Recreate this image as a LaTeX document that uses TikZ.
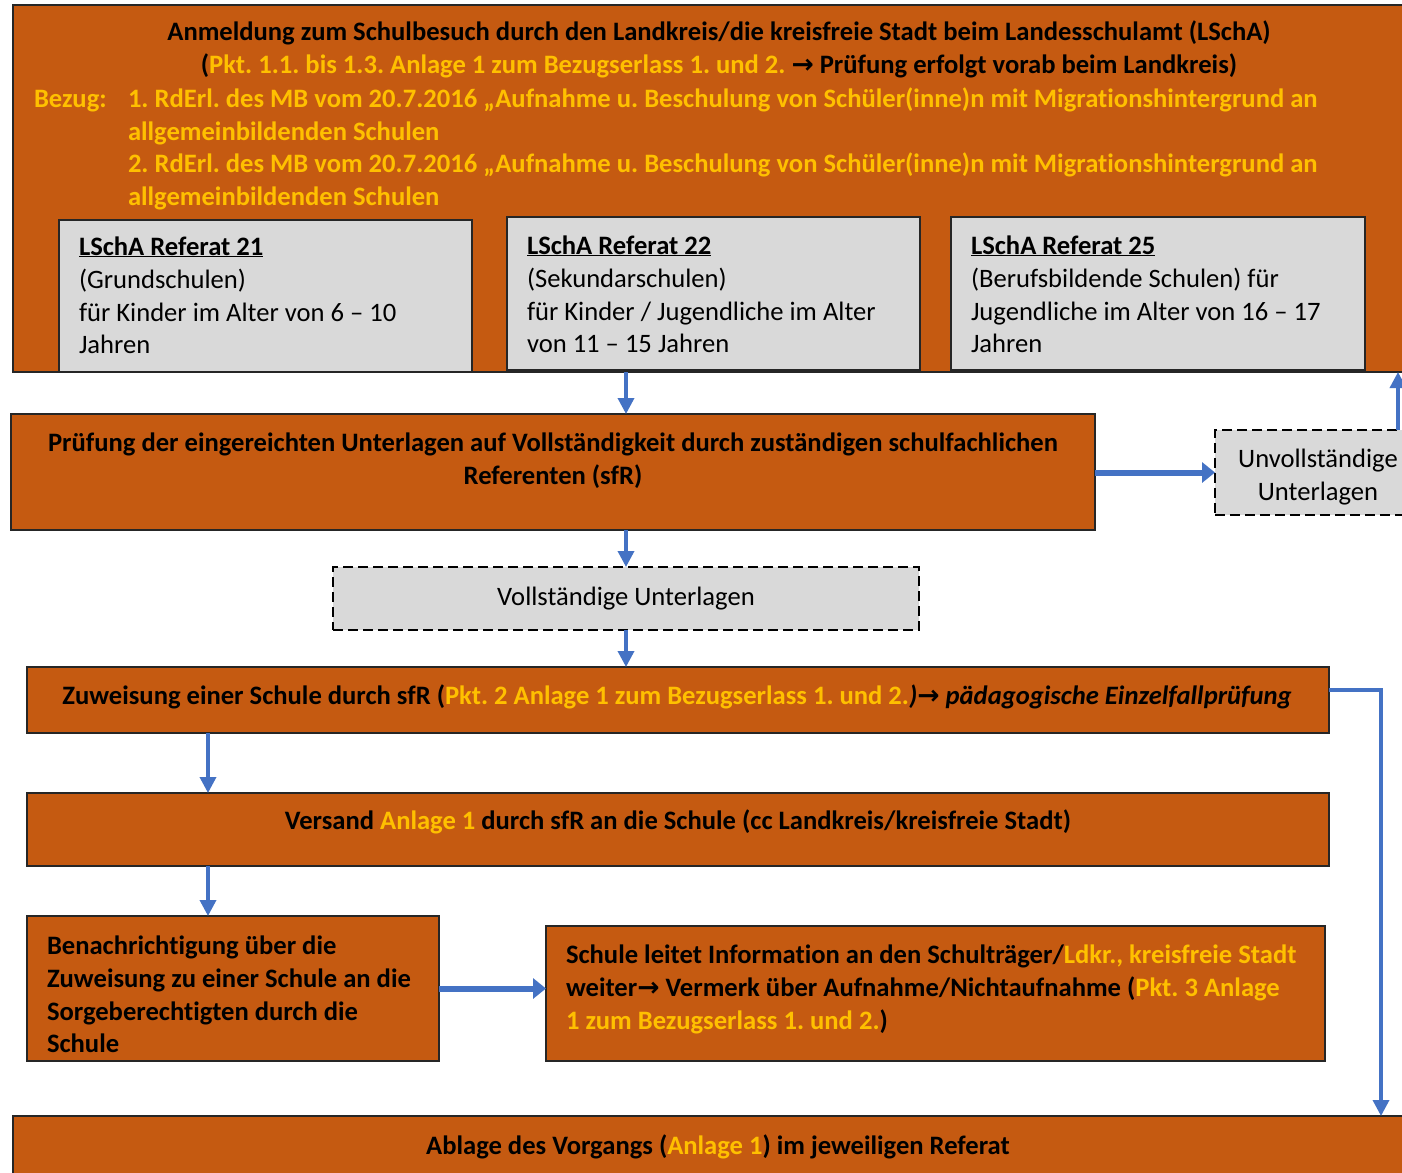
\documentclass[tikz,border=0pt]{standalone}
\usepackage{fontspec}
\setmainfont{Carlito}[Ligatures=NoCommon]
\newfontfamily\arrowfont{DejaVu Sans}
\usetikzlibrary{arrows.meta,calc}
\definecolor{org}{HTML}{C55A11}
\definecolor{yel}{HTML}{FFC000}
\definecolor{gry}{HTML}{D9D9D9}
\definecolor{blu}{HTML}{4472C4}
\newcommand{\ar}{{\arrowfont\bfseries →}}
\frenchspacing
\begin{document}
\begin{tikzpicture}[x=1pt,y=-1pt,
 every node/.style={inner sep=0pt, outer sep=0pt, font=\fontsize{26.6}{33}\selectfont\frenchspacing},
 bt/.style={font=\fontsize{26.6}{33}\selectfont\bfseries\frenchspacing},
 obox/.style={draw=black!85, line width=1.2pt, fill=org, anchor=north west},
 gbox/.style={draw=black!85, line width=1.2pt, fill=gry, anchor=north west},
 dbox/.style={draw=black, line width=2.2pt, dash pattern=on 10pt off 5pt, fill=gry, anchor=north west},
 arr/.style={draw=blu, line width=3.5pt, -{Triangle[length=16pt,width=16pt]}},
 tarr/.style={draw=blu, line width=6pt, -{Triangle[length=13pt,width=20pt]}},
]
\useasboundingbox (0,0) rectangle (1402,1172);
\fill[white] (0,0) rectangle (1402,1172);
\begin{scope}
\clip (0,0) rectangle (1402,1172);
% boxes
\node[obox, minimum width=1412pt, minimum height=367pt] (top) at (13,5) {};
\node[gbox, minimum width=413pt, minimum height=152pt] (r21) at (59,220) {};
\node[gbox, minimum width=413pt, minimum height=153pt] (r22) at (507,217) {};
\node[gbox, minimum width=414pt, minimum height=153pt] (r25) at (951,217) {};
\node[obox, minimum width=1084pt, minimum height=116pt] (pr) at (11,414) {};
\node[dbox, minimum width=206pt, minimum height=85pt] (unv) at (1215,430) {};
\node[dbox, minimum width=586pt, minimum height=63pt] (voll) at (333,567) {};
\node[obox, minimum width=1302pt, minimum height=66pt] (zuw) at (27,667) {};
\node[obox, minimum width=1302pt, minimum height=73pt] (vers) at (27,793) {};
\node[obox, minimum width=412pt, minimum height=145pt] (ben) at (27,916) {};
\node[obox, minimum width=779pt, minimum height=135pt] (sch) at (546,926) {};
\node[obox, minimum width=1412pt, minimum height=70pt] (abl) at (13,1116) {};
% top texts
\node[bt, anchor=base] (t1) at (719,41) {Anmeldung zum Schulbesuch durch den Landkreis/die kreisfreie Stadt beim Landesschulamt (LSchA)};
\node[bt, anchor=base] (t2) at (719,74) {(\textcolor{yel}{Pkt. 1.1. bis 1.3. Anlage 1 zum Bezugserlass 1. und 2.} \ar{} Prüfung erfolgt vorab beim Landkreis)};
\node[bt, anchor=base west, text=yel] (bz) at (34,107) {Bezug:};
\node[bt, anchor=base west, text=yel] (b1) at (128,107) {1. RdErl. des MB vom 20.7.2016 „Aufnahme u. Beschulung von Schüler(inne)n mit Migrationshintergrund an};
\node[bt, anchor=base west, text=yel] (b2) at (128,140) {allgemeinbildenden Schulen};
\node[bt, anchor=base west, text=yel] (b3) at (128,172) {2. RdErl. des MB vom 20.7.2016 „Aufnahme u. Beschulung von Schüler(inne)n mit Migrationshintergrund an};
\node[bt, anchor=base west, text=yel] (b4) at (128,205) {allgemeinbildenden Schulen};
% referat texts
\node[bt, anchor=base west] (a1) at (79,255) {\underline{LSchA Referat 21}};
\node[anchor=base west] (a2) at (79,288) {(Grundschulen)};
\node[anchor=base west] (a3) at (79,321) {für Kinder im Alter von 6 – 10};
\node[anchor=base west] (a4) at (79,353) {Jahren};
\node[bt, anchor=base west] (c1) at (527,254) {\underline{LSchA Referat 22}};
\node[anchor=base west] (c2) at (527,287) {(Sekundarschulen)};
\node[anchor=base west] (c3) at (527,320) {für Kinder / Jugendliche im Alter};
\node[anchor=base west] (c4) at (527,352) {von 11 – 15 Jahren};
\node[bt, anchor=base west] (d1) at (971,254) {\underline{LSchA Referat 25}};
\node[anchor=base west] (d2) at (971,287) {(Berufsbildende Schulen) für};
\node[anchor=base west] (d3) at (971,320) {Jugendliche im Alter von 16 – 17};
\node[anchor=base west] (d4) at (971,352) {Jahren};
% other texts
\node[bt, anchor=base] (p1) at (553,451) {Prüfung der eingereichten Unterlagen auf Vollständigkeit durch zuständigen schulfachlichen};
\node[bt, anchor=base] (p2) at (553,484) {Referenten (sfR)};
\node[anchor=base] (u1) at (1318,467) {Unvollständige};
\node[anchor=base] (u2) at (1318,500) {Unterlagen};
\node[anchor=base] (v1) at (626,605) {Vollständige Unterlagen};
\node[bt, anchor=base] (z1) at (677,704) {Zuweisung einer Schule durch sfR (\textcolor{yel}{Pkt. 2 Anlage 1 zum Bezugserlass 1. und 2.}\textit{)}\ar\textit{ pädagogische Einzelfallprüfung}};
\node[bt, anchor=base] (w1) at (678,829) {Versand \textcolor{yel}{Anlage 1} durch sfR an die Schule (cc Landkreis/kreisfreie Stadt)};
\node[bt, anchor=base west] (e1) at (47,954) {Benachrichtigung über die};
\node[bt, anchor=base west] (e2) at (47,987) {Zuweisung zu einer Schule an die};
\node[bt, anchor=base west] (e3) at (47,1020) {Sorgeberechtigten durch die};
\node[bt, anchor=base west] (e4) at (47,1052) {Schule};
\node[bt, anchor=base west] (s1) at (566,963) {Schule leitet Information an den Schulträger/\textcolor{yel}{Ldkr., kreisfreie Stadt}};
\node[bt, anchor=base west] (s2) at (566,996) {weiter\ar{} Vermerk über Aufnahme/Nichtaufnahme (\textcolor{yel}{Pkt. 3 Anlage}};
\node[bt, anchor=base west] (s3) at (566,1029) {\textcolor{yel}{1 zum Bezugserlass 1. und 2.})};
\node[bt, anchor=base] (l1) at (718,1154) {Ablage des Vorgangs (\textcolor{yel}{Anlage 1}) im jeweiligen Referat};
% connectors
\coordinate (upx) at (1398,0);
\coordinate (lx) at (208,0);
\coordinate (rx) at (1381,690);
\draw[arr] (top.south -| voll.north) -- (pr.north -| voll.north);
\draw[tarr] (pr.east |- unv.west) -- (unv.west);
\draw[arr] (unv.north -| upx) -- (top.south -| upx);
\draw[arr] (pr.south -| voll.north) -- (voll.north);
\draw[arr] (voll.south) -- (zuw.north -| voll.south);
\draw[arr] (zuw.east |- rx) -- (rx) -- (abl.north -| rx);
\draw[arr] (zuw.south -| lx) -- (vers.north -| lx);
\draw[arr] (vers.south -| lx) -- (ben.north -| lx);
\draw[tarr] (ben.east) -- (sch.west |- ben.east);
\end{scope}
\end{tikzpicture}
\end{document}
